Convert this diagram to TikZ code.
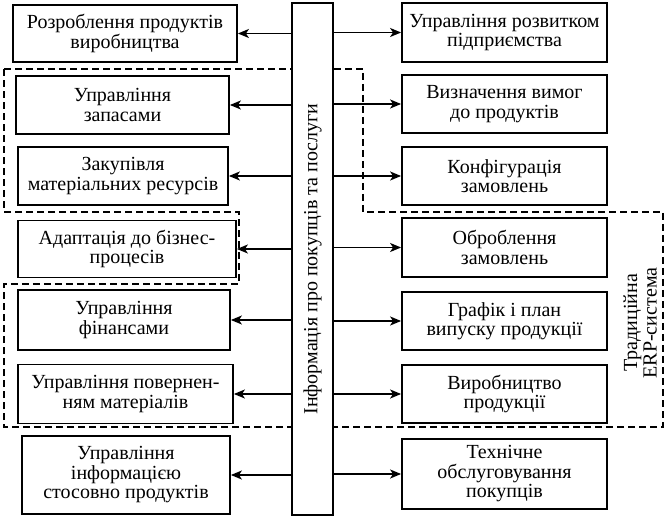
\documentclass[tikz,border=0pt]{standalone}
\usepackage{fontspec}
\setmainfont{Liberation Serif}
\usepackage{tikz}
\usetikzlibrary{arrows.meta}
\usetikzlibrary{positioning}

\begin{document}
\begin{tikzpicture}[x=1pt, y=-1pt, line width=1.8pt,
  every node/.append style={draw, align=center, inner sep=0pt,
    font=\fontsize{20}{19.5}\selectfont}]
  \useasboundingbox (0,0) rectangle (672,521);

  \node (lbox1) at (125, 33.5) [minimum width=224pt, minimum height=57pt]
        {Розроблення продуктів\\виробництва};
  \node (lbox2) at (122.5, 105) [minimum width=213pt, minimum height=58pt]
        {Управління\\запасами};
  \node (lbox3) at (123, 176) [minimum width=210pt, minimum height=58pt]
        {Закупівля\\матеріальних ресурсів};
  \node (lbox4) at (127, 249) [minimum width=218pt, minimum height=57pt]
        {Адаптація до бізнес-\\процесів};
  \node (lbox5) at (124, 320) [minimum width=212pt, minimum height=60pt]
        {Управління\\фінансами};
  \node (lbox6) at (125.5, 394) [minimum width=215pt, minimum height=59pt]
        {Управління повернен-\\ням матеріалів};
  \node (lbox7) at (126, 475) [minimum width=208pt, minimum height=78pt]
        {Управління\\інформацією\\стосовно продуктів};

  \node (rbox1) at (504.5, 32.5) [minimum width=205pt, minimum height=59pt]
        {Управління розвитком\\підприємства};
  \node (rbox2) at (504.5, 104) [minimum width=205pt, minimum height=58pt]
        {Визначення вимог\\до продуктів};
  \node (rbox3) at (504.5, 176) [minimum width=205pt, minimum height=58pt]
        {Конфігурація\\замовлень};
  \node (rbox4) at (504.5, 247.5) [minimum width=205pt, minimum height=59pt]
        {Оброблення\\замовлень};
  \node (rbox5) at (504.5, 321) [minimum width=205pt, minimum height=58pt]
        {Графік і план\\випуску продукції};
  \node (rbox6) at (504.5, 394) [minimum width=205pt, minimum height=58pt]
        {Виробництво\\продукції};
  \node (rbox7) at (504.5, 474) [minimum width=205pt, minimum height=70pt]
        {Технічне\\обслуговування\\покупців};

  \draw[dashed, dash pattern=on 7pt off 4pt, line width=1.6pt]
        (4,69) -- (363,69) -- (363,212) -- (663,212) -- (663,427) -- (4,427)
        -- (4,284) -- (239,284) -- (239,212) -- (4,212) -- cycle;

  \node (bar) at (312.5, 259) [fill=white, minimum width=41pt, minimum height=512pt]
        {\rotatebox{90}{Інформація про покупців та послуги}};
  \node (erp) at (640, 323) [draw=none, rotate=90]
        {Традиційна\\ERP-система};

  \draw[-{Stealth[length=11pt,width=9pt,inset=3pt]}] (bar.west |- lbox1) -- (lbox1.east);
  \draw[-{Stealth[length=11pt,width=9pt,inset=3pt]}] (bar.west |- lbox2) -- (lbox2.east);
  \draw[-{Stealth[length=11pt,width=9pt,inset=3pt]}] (bar.west |- lbox3) -- (lbox3.east);
  \draw[-{Stealth[length=11pt,width=9pt,inset=3pt]}] (bar.west |- lbox4) -- (lbox4.east);
  \draw[-{Stealth[length=11pt,width=9pt,inset=3pt]}] (bar.west |- lbox5) -- (lbox5.east);
  \draw[-{Stealth[length=11pt,width=9pt,inset=3pt]}] (bar.west |- lbox6) -- (lbox6.east);
  \draw[-{Stealth[length=11pt,width=9pt,inset=3pt]}] (bar.west |- lbox7) -- (lbox7.east);
  \draw[-{Stealth[length=11pt,width=9pt,inset=3pt]}] (bar.east |- rbox1) -- (rbox1.west);
  \draw[-{Stealth[length=11pt,width=9pt,inset=3pt]}] (bar.east |- rbox2) -- (rbox2.west);
  \draw[-{Stealth[length=11pt,width=9pt,inset=3pt]}] (bar.east |- rbox3) -- (rbox3.west);
  \draw[-{Stealth[length=11pt,width=9pt,inset=3pt]}] (bar.east |- rbox4) -- (rbox4.west);
  \draw[-{Stealth[length=11pt,width=9pt,inset=3pt]}] (bar.east |- rbox5) -- (rbox5.west);
  \draw[-{Stealth[length=11pt,width=9pt,inset=3pt]}] (bar.east |- rbox6) -- (rbox6.west);
  \draw[-{Stealth[length=11pt,width=9pt,inset=3pt]}] (bar.east |- rbox7) -- (rbox7.west);
\end{tikzpicture}
\end{document}
